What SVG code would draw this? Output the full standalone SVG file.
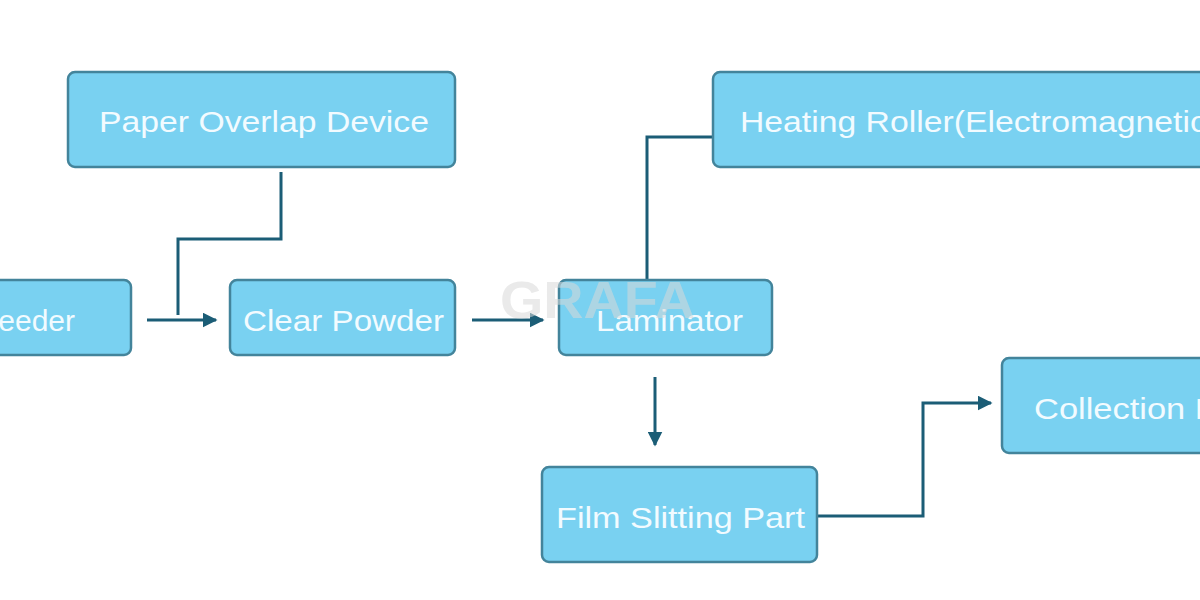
<svg xmlns="http://www.w3.org/2000/svg" width="1200" height="600" viewBox="0 0 1200 600">
<defs>
<style>
.box{fill:#79d1f1;stroke:#43849b;stroke-width:2.5}
.lbl{font-family:"Liberation Sans",Arial,sans-serif;font-size:30px;fill:#f2fbff}
.conn{fill:none;stroke:#1b5d76;stroke-width:3}
.wm{font-family:"Liberation Sans",Arial,sans-serif;font-size:52px;font-weight:bold;fill:#d9d9d9;opacity:0.55}
</style>
<marker id="arr" viewBox="0 0 10 10" refX="9" refY="5" markerWidth="5" markerHeight="5" orient="auto" markerUnits="strokeWidth">
<path d="M0,0 L10,5 L0,10 z" fill="#1b5d76"/>
</marker>
</defs>
<rect width="1200" height="600" fill="#ffffff"/>
<g id="connectors">
<path class="conn" d="M147,320 H216" marker-end="url(#arr)"/>
<path class="conn" d="M281,172 V239 H178 V315"/>
<path class="conn" d="M472,320 H543" marker-end="url(#arr)"/>
<path class="conn" d="M713,137 H647 V279"/>
<path class="conn" d="M655,377 V445" marker-end="url(#arr)"/>
<path class="conn" d="M817,516 H923 V403 H991" marker-end="url(#arr)"/>
</g>
<g id="paper-overlap">
<rect class="box" x="68" y="72" width="387" height="95" rx="7"/>
<text class="lbl" x="99" y="132" textLength="330" lengthAdjust="spacingAndGlyphs">Paper Overlap Device</text>
</g>
<g id="feeder">
<rect class="box" x="-12" y="280" width="143" height="75" rx="7"/>
<text class="lbl" x="75" y="331" text-anchor="end">Feeder</text>
</g>
<g id="clear-powder">
<rect class="box" x="230" y="280" width="225" height="75" rx="7"/>
<text class="lbl" x="243" y="331" textLength="201" lengthAdjust="spacingAndGlyphs">Clear Powder</text>
</g>
<g id="laminator">
<rect class="box" x="559" y="280" width="213" height="75" rx="7"/>
<text class="lbl" x="596" y="331" textLength="147" lengthAdjust="spacingAndGlyphs">Laminator</text>
</g>
<g id="heating-roller">
<rect class="box" x="713" y="72" width="500" height="95" rx="7"/>
<text class="lbl" x="740" y="132" textLength="478" lengthAdjust="spacingAndGlyphs">Heating Roller(Electromagnetic)</text>
</g>
<g id="film-slitting">
<rect class="box" x="542" y="467" width="275" height="95" rx="7"/>
<text class="lbl" x="556" y="528" textLength="249" lengthAdjust="spacingAndGlyphs">Film Slitting Part</text>
</g>
<g id="collection">
<rect class="box" x="1002" y="358" width="210" height="95" rx="7"/>
<text class="lbl" x="1034" y="419" textLength="224" lengthAdjust="spacingAndGlyphs">Collection Part</text>
</g>
<text class="wm" x="500" y="318" textLength="195" lengthAdjust="spacingAndGlyphs">GRAFA</text>
</svg>
